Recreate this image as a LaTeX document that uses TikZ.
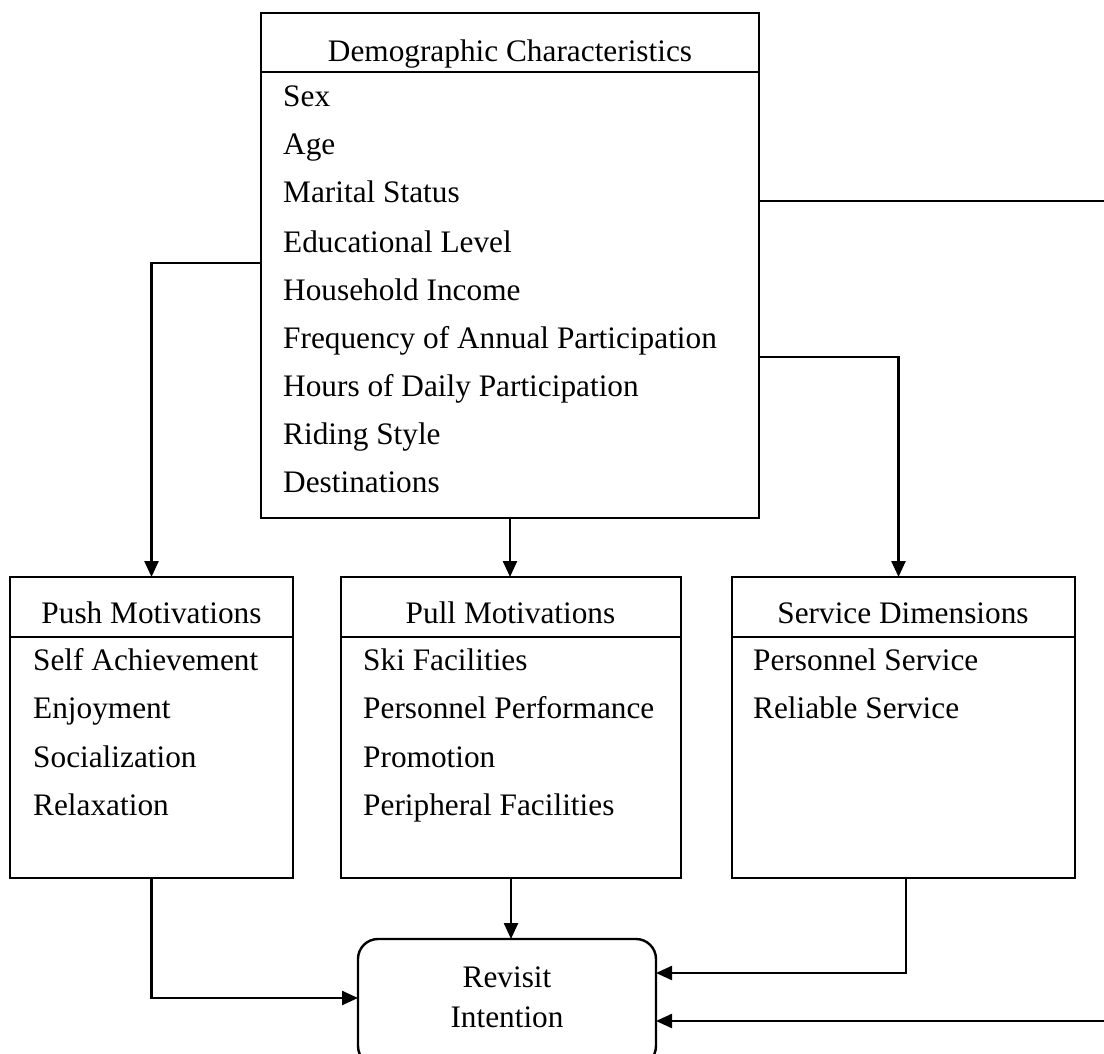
\documentclass[tikz,border=0pt]{standalone}
\usepackage{fontspec}
\setmainfont{Liberation Serif}
\usetikzlibrary{arrows.meta}
\begin{document}
\begin{tikzpicture}[x=1pt,y=-1pt,line width=2.4pt,
  box/.style={draw,line width=2.4pt,inner sep=0pt,outer sep=0pt},
  hd/.style={anchor=base,inner sep=0pt,font=\fontsize{31.3}{36}\selectfont},
  it/.style={anchor=base west,inner sep=0pt,font=\fontsize{31.3}{36}\selectfont},
  arr/.style={-{Triangle[length=16pt,width=14pt]},line width=2.4pt}]
\useasboundingbox (0,0) rectangle (1104,1054);

% boxes
\node[box,minimum width=498pt,minimum height=505pt] (demo) at (510,265.5) {};
\node[box,minimum width=283pt,minimum height=301pt] (push) at (151.5,727.5) {};
\node[box,minimum width=340pt,minimum height=301pt] (pull) at (511,727.5) {};
\node[box,minimum width=343pt,minimum height=301pt] (serv) at (903.5,727.5) {};
\node[box,rounded corners=20pt,minimum width=298pt,minimum height=127pt] (rev) at (507,1002.5) {};

% header separators
\draw ([yshift=-59pt]demo.north west) -- ([yshift=-59pt]demo.north east);
\draw ([yshift=-60pt]push.north west) -- ([yshift=-60pt]push.north east);
\draw ([yshift=-60pt]pull.north west) -- ([yshift=-60pt]pull.north east);
\draw ([yshift=-60pt]serv.north west) -- ([yshift=-60pt]serv.north east);

% demographic texts
\node[hd] (demoh) at (510,62) {Demographic Characteristics};
\node[it] (d1) at (282,107) {Sex};
\node[it] (d2) at (282,155) {Age};
\node[it] (d3) at (282,203) {Marital Status};
\node[it] (d4) at (282,252) {Educational Level};
\node[it] (d5) at (282,300) {Household Income};
\node[it] (d6) at (282,348) {Frequency of Annual Participation};
\node[it] (d7) at (282,396) {Hours of Daily Participation};
\node[it] (d8) at (282,444) {Riding Style};
\node[it] (d9) at (282,492) {Destinations};

% push
\node[hd] (pushh) at (151.5,623) {Push Motivations};
\node[it] (p1) at (32,670) {Self Achievement};
\node[it] (p2) at (32,718) {Enjoyment};
\node[it] (p3) at (32,767) {Socialization};
\node[it] (p4) at (32,815) {Relaxation};

% pull
\node[hd] (pullh) at (510.5,623) {Pull Motivations};
\node[it] (q1) at (362,670) {Ski Facilities};
\node[it] (q2) at (362,718) {Personnel Performance};
\node[it] (q3) at (362,767) {Promotion};
\node[it] (q4) at (362,815) {Peripheral Facilities};

% service
\node[hd] (servh) at (903,623) {Service Dimensions};
\node[it] (s1) at (752,670) {Personnel Service};
\node[it] (s2) at (752,718) {Reliable Service};

% revisit
\node[hd] (rev1) at (507,987) {Revisit};
\node[hd] (rev2) at (507,1027) {Intention};

% connectors
\draw[arr] ([yshift=-250pt]demo.north west) -| (push.north);
\draw[arr] (demo.south) -- (demo.south |- pull.north);
\draw[arr] ([yshift=-344pt]demo.north east) -| ([xshift=-5pt]serv.north);
\draw[arr] ([yshift=-188pt]demo.north east) -- ++(351,0) |- ([yshift=-82pt]rev.north east);
\draw[arr] (push.south) |- ([yshift=-59pt]rev.north west);
\draw[arr] (pull.south) -- (pull.south |- rev.north);
\draw[arr] ([xshift=2.5pt]serv.south) |- ([yshift=-34pt]rev.north east);
\end{tikzpicture}
\end{document}
